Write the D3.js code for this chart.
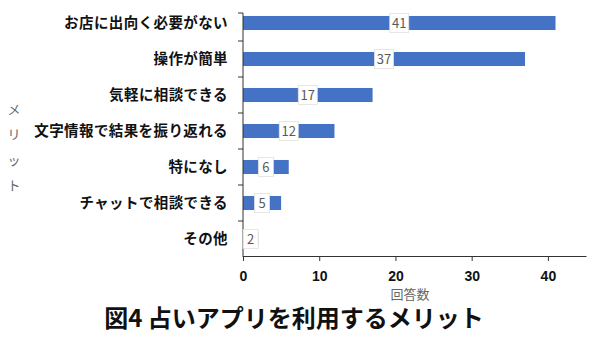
<!DOCTYPE html>
<html>
<head>
<meta charset="utf-8">
<script src="https://cdn.jsdelivr.net/npm/d3@7"></script>
<style>
  html, body { margin: 0; padding: 0; background: #fff; }
  svg { display: block; font-family: "Noto Sans CJK JP", "Noto Sans", sans-serif; }
</style>
</head>
<body>
<svg id="chart" width="600" height="337"></svg>
<script>
// Reasons respondents gave for using fortune-telling apps
const categories = [
  "お店に出向く必要がない",
  "操作が簡単",
  "気軽に相談できる",
  "文字情報で結果を振り返れる",
  "特になし",
  "チャットで相談できる",
  "その他"
];
const answers = [41, 37, 17, 12, 6, 5, 2];
const xTicks = [0, 10, 20, 30, 40];
const xTitle = "回答数";
const yTitle = "メリット";
const chartTitle = "図4 占いアプリを利用するメリット";

const svg = d3.select("#chart");
const plotLeft = 243, plotRight = 586, plotTop = 5, plotBottom = 257;

const x = d3.scaleLinear().domain([0, 45]).range([plotLeft, plotRight]);
const y = d3.scaleBand().domain(categories).range([plotTop, plotBottom]).paddingInner(0.61).paddingOuter(0.305);

// bars
svg.append("g").selectAll("rect")
  .data(answers)
  .join("rect")
  .attr("x", x(0))
  .attr("y", (d, i) => y(categories[i]))
  .attr("width", d => x(d) - x(0))
  .attr("height", y.bandwidth())
  .attr("fill", "#4472c4");

// x axis
const xAxis = svg.append("g")
  .attr("transform", `translate(0,${plotBottom - 1})`)
  .call(d3.axisBottom(x).tickValues(xTicks).tickSize(5).tickSizeOuter(0));
xAxis.select(".domain").attr("stroke", "#333");
xAxis.selectAll(".tick line").attr("stroke", "#333");
xAxis.selectAll(".tick text")
  .attr("y", 25)
  .attr("dy", 0)
  .attr("font-size", 14)
  .attr("font-weight", "bold")
  .attr("fill", "#111");

// y axis: vertical line with ticks on band boundaries
const yAxisG = svg.append("g");
yAxisG.append("line")
  .attr("x1", plotLeft).attr("x2", plotLeft)
  .attr("y1", 13).attr("y2", plotBottom)
  .attr("stroke", "#333");
const step = y.step();
const boundaries = categories.map((c, i) => i === 0 ? 13 : y(c) - step * 0.305);
yAxisG.selectAll("line.tick")
  .data(boundaries)
  .join("line")
  .attr("class", "tick")
  .attr("x1", plotLeft - 5).attr("x2", plotLeft)
  .attr("y1", d => d).attr("y2", d => d)
  .attr("stroke", "#333");

// category labels
svg.append("g").selectAll("text")
  .data(categories)
  .join("text")
  .attr("x", 228)
  .attr("y", c => y(c) + y.bandwidth() / 2)
  .attr("dy", "0.36em")
  .attr("text-anchor", "end")
  .attr("font-size", 14.5)
  .attr("letter-spacing", 0.4)
  .attr("font-weight", "bold")
  .attr("fill", "#111")
  .text(c => c);

// value labels in boxes at bar midpoints
const labels = svg.append("g").selectAll("g")
  .data(answers)
  .join("g")
  .attr("transform", (d, i) => `translate(${x(d / 2)},${y(categories[i]) + y.bandwidth() / 2})`);
labels.append("rect")
  .attr("x", d => d >= 10 ? -9.5 : -7.5)
  .attr("y", -9.5)
  .attr("width", d => d >= 10 ? 19 : 15)
  .attr("height", 19)
  .attr("fill", "#fff")
  .attr("stroke", "#e0e0e0")
  .attr("stroke-width", 0.8);
labels.append("text")
  .attr("text-anchor", "middle")
  .attr("dy", "0.36em")
  .attr("font-size", 13)
  .attr("fill", "#595959")
  .text(d => d);

// axis titles
svg.append("text")
  .attr("x", 410).attr("y", 298.5)
  .attr("text-anchor", "middle")
  .attr("font-size", 13)
  .attr("fill", "#666")
  .text(xTitle);

svg.append("g").selectAll("text")
  .data(Array.from(yTitle))
  .join("text")
  .attr("x", 14)
  .attr("y", (d, i) => 109 + i * 25.5)
  .attr("dy", "0.36em")
  .attr("text-anchor", "middle")
  .attr("font-size", 13)
  .attr("fill", "#666")
  .text(d => d);

// chart title
svg.append("text")
  .attr("x", 294).attr("y", 327)
  .attr("text-anchor", "middle")
  .attr("font-size", 24)
  .attr("font-weight", "bold")
  .attr("fill", "#111")
  .text(chartTitle);
</script>
</body>
</html>
